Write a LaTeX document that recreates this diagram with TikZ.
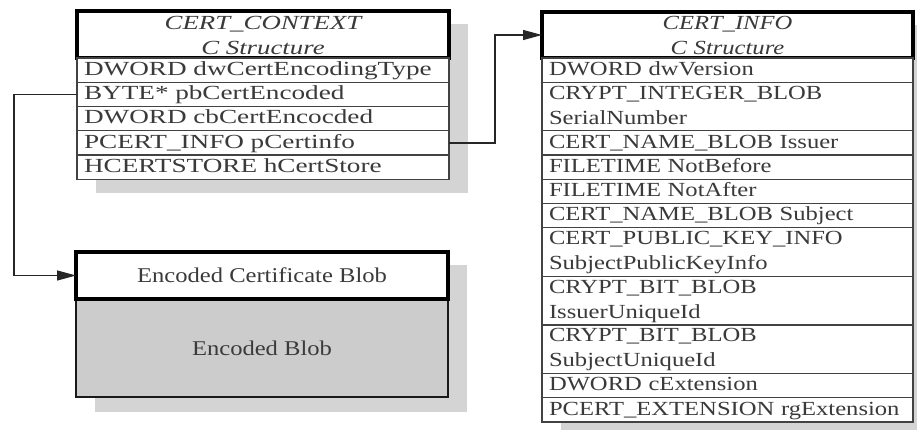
\documentclass[tikz,border=0pt]{standalone}
\usepackage{fontspec}
\setmainfont{Liberation Serif}[FakeStretch=1.23]
\newfontfamily\ctxfont{Liberation Serif}[FakeStretch=1.36]
\newfontfamily\ctxheadfont{Liberation Serif}[FakeStretch=1.34]
\newfontfamily\blobfont{Liberation Serif}[FakeStretch=1.17]
\usetikzlibrary{arrows.meta}
\pgfdeclarelayer{background}
\pgfsetlayers{background,main}

\definecolor{shadowgray}{HTML}{D4D4D4}
\definecolor{blobgray}{HTML}{CCCCCC}
\definecolor{inkgray}{HTML}{3A3A3A}
\definecolor{rulegray}{HTML}{424242}

% struts that fix the first baseline / last depth of two-line cells
\newcommand\topstrut{\rule{0pt}{15pt}}
\newcommand\botstrut{\rule[-4.5pt]{0pt}{4.5pt}}

\begin{document}
\begin{tikzpicture}[x=1pt,y=-1pt,
  rowbox/.style={draw=rulegray, line width=1.2pt, fill=white, rectangle,
    outer sep=0pt, inner xsep=7pt, inner ysep=0pt, align=left,
    anchor=north west, text=inkgray, font=\fontsize{20}{25}\selectfont},
  onerow/.style={rowbox, minimum height=24.27pt, text height=15pt, text depth=4.5pt},
  tworow/.style={rowbox, minimum height=48.53pt},
  leftw/.style={text width=358pt},
  rightw/.style={text width=357pt},
  ctxrow/.style={onerow, leftw, font=\ctxfont\fontsize{20}{25}\selectfont},
  headbox/.style={draw=black, line width=3.5pt, fill=white, rectangle,
    outer sep=0pt, inner xsep=7pt, inner ysep=0pt, align=center,
    anchor=north west, text=inkgray, font=\fontsize{20}{25}\selectfont\itshape},
  blobbox/.style={rectangle, outer sep=0pt, inner sep=0pt, anchor=north west,
    minimum width=372pt, text=inkgray, font=\blobfont\fontsize{21}{25}\selectfont},
  conn/.style={draw=black!85, line width=1.2pt, -{Triangle[length=19pt,width=10pt]}}]

\useasboundingbox (0,0) rectangle (917,430);

% ---- CERT_CONTEXT structure
\node[headbox, leftw, minimum height=47pt,
      font=\ctxheadfont\fontsize{20}{25}\selectfont\itshape] (ctx-head) at (77,11)
  {\topstrut CERT\_CONTEXT\\C Structure};
\node[ctxrow] (ctx-1) at (ctx-head.south west) {DWORD dwCertEncodingType};
\node[ctxrow] (ctx-2) at (ctx-1.south west) {BYTE* pbCertEncoded};
\node[ctxrow] (ctx-3) at (ctx-2.south west) {DWORD cbCertEncocded};
\node[ctxrow] (ctx-4) at (ctx-3.south west) {PCERT\_INFO pCertinfo};
\node[ctxrow] (ctx-5) at (ctx-4.south west) {HCERTSTORE hCertStore};

% ---- encoded certificate blob
\node[blobbox, draw=black!90, line width=1.2pt, fill=blobgray, minimum height=98pt]
  (blobbody) at (76,299) {Encoded Blob};
\node[blobbox, draw=black, line width=3.5pt, fill=white, minimum height=47pt]
  (blobhead) at (76,252) {Encoded Certificate Blob};

% ---- CERT_INFO structure
\node[headbox, rightw, minimum height=46pt] (info-head) at (542,12)
  {\topstrut CERT\_INFO\\C Structure};
\node[onerow, rightw] (info-1) at (info-head.south west) {DWORD dwVersion};
\node[tworow, rightw] (info-2) at (info-1.south west)
  {\topstrut CRYPT\_INTEGER\_BLOB\\SerialNumber\botstrut};
\node[onerow, rightw] (info-3) at (info-2.south west) {CERT\_NAME\_BLOB Issuer};
\node[onerow, rightw] (info-4) at (info-3.south west) {FILETIME NotBefore};
\node[onerow, rightw] (info-5) at (info-4.south west) {FILETIME NotAfter};
\node[onerow, rightw] (info-6) at (info-5.south west) {CERT\_NAME\_BLOB Subject};
\node[tworow, rightw] (info-7) at (info-6.south west)
  {\topstrut CERT\_PUBLIC\_KEY\_INFO\\SubjectPublicKeyInfo\botstrut};
\node[tworow, rightw] (info-8) at (info-7.south west)
  {\topstrut CRYPT\_BIT\_BLOB\\IssuerUniqueId\botstrut};
\node[tworow, rightw] (info-9) at (info-8.south west)
  {\topstrut CRYPT\_BIT\_BLOB\\SubjectUniqueId\botstrut};
\node[onerow, rightw] (info-10) at (info-9.south west) {DWORD cExtension};
\node[onerow, rightw] (info-11) at (info-10.south west) {PCERT\_EXTENSION rgExtension};

% ---- drop shadows
\begin{pgfonlayer}{background}
  \clip (0,0) rectangle (917,430);
  \fill[shadowgray] ([shift={(19,13)}]ctx-head.north west)
    rectangle ([shift={(19,14)}]ctx-5.south east);
  \fill[shadowgray] ([shift={(19,13)}]blobhead.north west)
    rectangle ([shift={(19,15)}]blobbody.south east);
  \fill[shadowgray] ([shift={(19,13)}]info-head.north west)
    rectangle ([shift={(19,14)}]info-11.south east);
\end{pgfonlayer}

% ---- pointers
\draw[conn] (ctx-2.west) -- ++(-63,0) |- (blobhead.west);
\draw[conn] (ctx-4.east) -- ++(46,0) |- (info-head.west);

\end{tikzpicture}
\end{document}
